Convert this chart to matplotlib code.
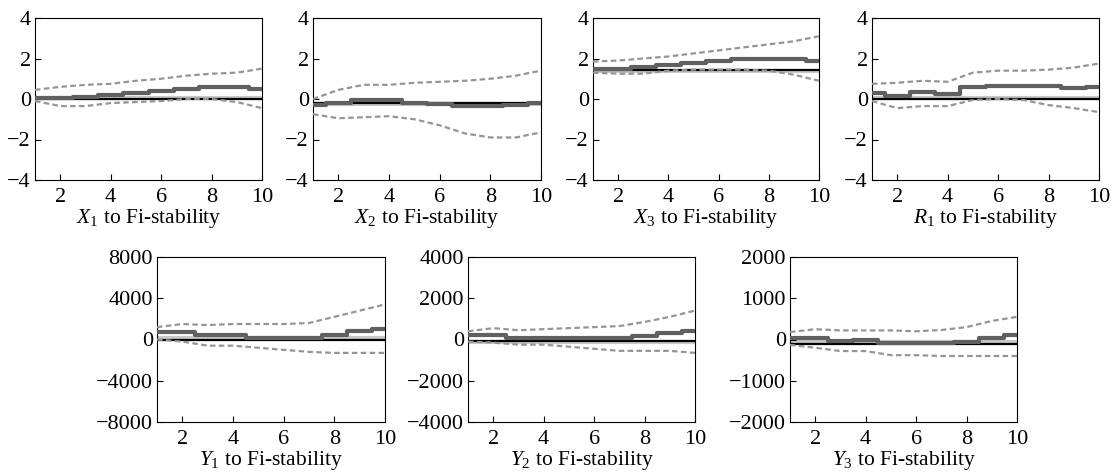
import numpy as np
import matplotlib as mpl
import matplotlib.pyplot as plt

mpl.use("agg")

plt.rcParams["font.family"] = ["Liberation Serif", "DejaVu Serif"]
plt.rcParams["mathtext.fontset"] = "custom"
plt.rcParams["mathtext.rm"] = "Liberation Serif"
plt.rcParams["mathtext.it"] = "Liberation Serif:italic"

W, H = 1112, 472

steps = np.arange(1, 11)

names = ["X_1", "X_2", "X_3", "R_1", "Y_1", "Y_2", "Y_3"]
limits = [4, 4, 4, 4, 8000, 4000, 2000]
yticks = [
    [-4, -2, 0, 2, 4],
    [-4, -2, 0, 2, 4],
    [-4, -2, 0, 2, 4],
    [-4, -2, 0, 2, 4],
    [-8000, -4000, 0, 4000, 8000],
    [-4000, -2000, 0, 2000, 4000],
    [-2000, -1000, 0, 1000, 2000],
]

# black reference line and light gray line per panel
base = [0, -0.2, 1.45, 0, 0, -50, -100]
light = [0.07, -0.25, 1.4, 0.03, 100, -120, -60]

response = [
    [0.07, 0.07, 0.1, 0.2, 0.3, 0.4, 0.5, 0.6, 0.6, 0.5],
    [-0.3, -0.2, -0.05, -0.05, -0.2, -0.25, -0.35, -0.35, -0.3, -0.2],
    [1.5, 1.5, 1.6, 1.7, 1.8, 1.9, 2.0, 2.0, 2.0, 1.9],
    [0.3, 0.15, 0.35, 0.25, 0.6, 0.65, 0.65, 0.65, 0.55, 0.6],
    [700, 750, 450, 450, 150, 150, 150, 450, 800, 1000],
    [200, 200, 50, 50, 50, 50, 50, 150, 300, 400],
    [30, 30, -30, 0, -80, -80, -80, -60, 30, 100],
]
upper = [
    [0.45, 0.6, 0.7, 0.75, 0.9, 1.0, 1.15, 1.25, 1.3, 1.5],
    [0.0, 0.45, 0.7, 0.7, 0.8, 0.85, 0.9, 1.0, 1.15, 1.4],
    [1.85, 1.9, 2.0, 2.1, 2.25, 2.4, 2.55, 2.7, 2.85, 3.1],
    [0.75, 0.8, 0.9, 0.85, 1.3, 1.4, 1.4, 1.45, 1.55, 1.75],
    [1200, 1500, 1400, 1500, 1500, 1500, 1600, 2200, 2800, 3400],
    [400, 550, 450, 500, 550, 600, 650, 850, 1100, 1400],
    [180, 250, 220, 220, 220, 200, 230, 300, 450, 550],
]
lower = [
    [-0.1, -0.35, -0.35, -0.2, -0.15, -0.1, 0.0, 0.0, -0.15, -0.45],
    [-0.75, -0.95, -0.9, -0.85, -1.0, -1.3, -1.7, -1.9, -1.9, -1.65],
    [1.3, 1.25, 1.25, 1.4, 1.45, 1.45, 1.45, 1.4, 1.2, 0.9],
    [-0.1, -0.45, -0.35, -0.35, -0.05, 0.0, -0.05, -0.3, -0.45, -0.65],
    [0, -200, -600, -600, -800, -1000, -1200, -1300, -1300, -1300],
    [-100, -150, -250, -250, -350, -450, -550, -550, -550, -650],
    [-130, -200, -280, -280, -380, -380, -400, -400, -400, -400],
]

# axes boxes in pixels: left, right, top, bottom
boxes = [
    (35, 262, 18, 180),
    (313, 541, 18, 180),
    (593, 819, 18, 180),
    (872, 1099, 18, 180),
    (157, 385, 257, 422),
    (468, 695, 257, 422),
    (790, 1017, 257, 422),
]

fig = plt.figure(figsize=(W / 100, H / 100), dpi=100)

for i, name in enumerate(names):
    l, r, t, b = boxes[i]
    ax = fig.add_axes([l / W, 1 - b / H, (r - l) / W, (b - t) / H])

    ax.axhline(light[i], color="#c8c8c8", lw=3.0, zorder=1)
    ax.axhline(base[i], color="black", lw=1.6, zorder=2)
    ax.step(steps, response[i], where="mid", color="#606060", lw=3.0, zorder=3)
    ax.plot(steps, upper[i], color="#959595", lw=1.6, ls=(0, (2.5, 1.5)), zorder=4)
    ax.plot(steps, lower[i], color="#959595", lw=1.6, ls=(0, (2.5, 1.5)), zorder=4)

    ax.set_xlim(1, 10)
    ax.set_ylim(-limits[i], limits[i])
    ax.set_xticks([2, 4, 6, 8, 10])
    ax.set_yticks(yticks[i])
    ax.tick_params(direction="in", length=4, width=0.8, labelsize=16)
    ax.tick_params(axis="x", pad=6)
    ax.tick_params(axis="y", pad=3)
    for s in ax.spines.values():
        s.set_linewidth(0.8)
    ax.set_xlabel(f"${name}$ to Fi-stability", fontsize=15.5, labelpad=0)

fig.savefig("out.png", dpi=100)
